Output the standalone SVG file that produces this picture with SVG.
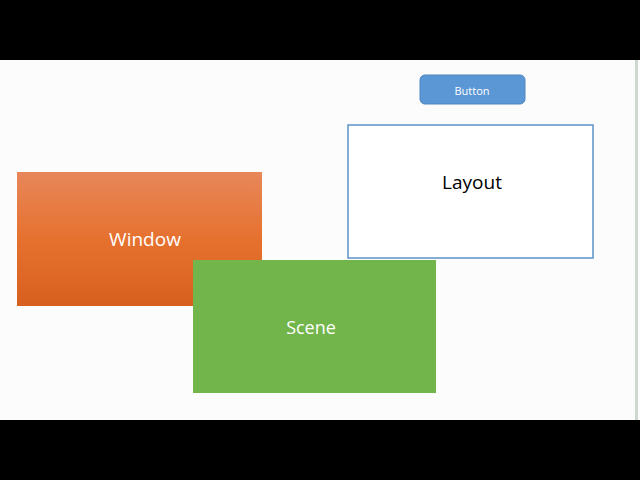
<svg xmlns="http://www.w3.org/2000/svg" width="640" height="480" viewBox="0 0 640 480">
<defs>
<linearGradient id="og" x1="0" y1="0" x2="0" y2="1"><stop offset="0" stop-color="#e8875a"/><stop offset="0.5" stop-color="#e6712f"/><stop offset="1" stop-color="#d8601e"/></linearGradient>
</defs>
<style>
text{font-family:"Open Sans","Liberation Sans",sans-serif;text-anchor:middle;dominant-baseline:central}
.w{fill:#fff}
</style>
<rect width="640" height="480" fill="#000"/>
<rect x="0" y="60" width="640" height="360" fill="#fcfcfc"/>
<rect x="635" y="60" width="3" height="360" fill="#cfd8cf"/>
<g id="button"><rect x="420" y="75" width="105" height="29" rx="5" fill="#5b97d4" stroke="#4f86c0"/><text x="472" y="90" font-size="11" class="w">Button</text></g>
<g id="layout"><rect x="348" y="125" width="245" height="133" fill="#fff" stroke="#5b93c9" stroke-width="1.5"/><text x="472" y="182" font-size="19" fill="#000">Layout</text></g>
<g id="window"><rect x="17" y="172" width="245" height="134" fill="url(#og)"/><text x="145" y="239" font-size="19" class="w">Window</text></g>
<g id="scene"><rect x="193" y="260" width="243" height="133" fill="#72b54b"/><text x="311" y="327" font-size="18" class="w">Scene</text></g>
<g id="connectors"/>
</svg>
